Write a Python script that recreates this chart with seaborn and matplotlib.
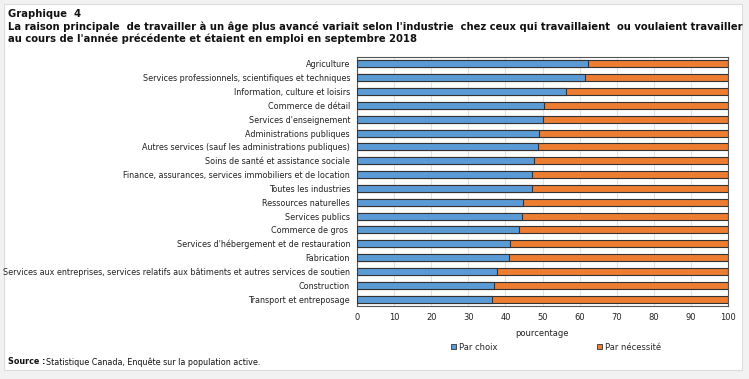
import numpy as np
import pandas as pd
import seaborn as sns
import matplotlib.pyplot as plt
from matplotlib.patches import Rectangle

industries = [
    "Agriculture",
    "Services professionnels, scientifiques et techniques",
    "Information, culture et loisirs",
    "Commerce de détail",
    "Services d'enseignement",
    "Administrations publiques",
    "Autres services (sauf les administrations publiques)",
    "Soins de santé et assistance sociale",
    "Finance, assurances, services immobiliers et de location",
    "Toutes les industries",
    "Ressources naturelles",
    "Services publics",
    "Commerce de gros ",
    "Services d'hébergement et de restauration",
    "Fabrication",
    "Services aux entreprises, services relatifs aux bâtiments et autres services de soutien",
    "Construction",
    "Transport et entreposage",
]
par_choix = [62.2, 61.5, 56.2, 50.5, 50.2, 49.1, 48.7, 47.7, 47.3,
             47.1, 44.8, 44.5, 43.7, 41.3, 41.1, 37.8, 36.8, 36.5]
par_necessite = [37.8, 38.5, 43.8, 49.5, 49.8, 50.9, 51.3, 52.3, 52.7,
                 52.9, 55.2, 55.5, 56.3, 58.7, 58.9, 62.2, 63.2, 63.5]

df = pd.DataFrame({"industrie": industries, "choix": par_choix, "necessite": par_necessite})
df["total"] = df["choix"] + df["necessite"]

blue = "#5b9bd5"
orange = "#ed7d31"
edge = "#333333"

sns.set_style("white")
plt.rcParams["font.family"] = ["DejaVu Sans"]

fig = plt.figure(figsize=(7.49, 3.79), dpi=100, facecolor="#f2f2f2")
# white panel behind everything
panel = Rectangle((4 / 749, 1 - 370 / 379), 738 / 749, 366 / 379,
                  transform=fig.transFigure, facecolor="white",
                  edgecolor="#dddddd", linewidth=0.8, zorder=-10)
fig.add_artist(panel)

ax = fig.add_axes([357 / 749, 1 - 306 / 379, 371 / 749, 249 / 379])
sns.barplot(data=df, y="industrie", x="total", color=orange, orient="h",
            width=0.5, edgecolor=edge, linewidth=0.8, saturation=1, ax=ax, zorder=2)
sns.barplot(data=df, y="industrie", x="choix", color=blue, orient="h",
            width=0.5, edgecolor=edge, linewidth=0.8, saturation=1, ax=ax, zorder=3)

ax.set_xlim(0, 100)
ax.set_xticks(np.arange(0, 101, 10))
ax.set_ylim(len(industries) - 0.5, -0.5)
ax.grid(axis="x", color="#e3e3e3", linewidth=0.8, zorder=0)
ax.set_axisbelow(True)
for s in ax.spines.values():
    s.set_color("#555555")
    s.set_linewidth(0.8)
ax.tick_params(axis="x", labelsize=6, colors="#222222", length=0, pad=5)
ax.tick_params(axis="y", labelsize=5.75, colors="#222222", length=0, pad=5)
ax.set_ylabel("")
ax.set_xlabel("pourcentage", fontsize=6, color="#222222", labelpad=5)

handles = [Rectangle((0, 0), 1, 1, facecolor=blue, edgecolor=edge, linewidth=0.6),
           Rectangle((0, 0), 1, 1, facecolor=orange, edgecolor=edge, linewidth=0.6)]
fig.legend(handles, ["Par choix", "Par nécessité"], loc="center",
           bbox_to_anchor=(556 / 749, 1 - 347 / 379), ncol=2, frameon=False,
           fontsize=6, handlelength=0.6, handleheight=0.6, handletextpad=0.3,
           columnspacing=12)

title_kw = dict(fontsize=7.2, fontweight="bold", color="#111111", va="center")
fig.text(8 / 749, 1 - 14 / 379, "Graphique  4", **title_kw)
fig.text(8 / 749, 1 - 27 / 379,
         "La raison principale  de travailler à un âge plus avancé variait selon l'industrie  chez ceux qui travaillaient  ou voulaient travailler",
         **title_kw)
fig.text(8 / 749, 1 - 39 / 379,
         "au cours de l'année précédente et étaient en emploi en septembre 2018",
         **title_kw)

fig.text(8 / 749, 1 - 362 / 379, "Source :", fontsize=5.8, fontweight="bold",
         color="#111111", va="center")
fig.text(46 / 749, 1 - 362 / 379, "Statistique Canada, Enquête sur la population active.",
         fontsize=5.8, color="#111111", va="center")

fig.savefig("out.png", dpi=100, facecolor=fig.get_facecolor())
